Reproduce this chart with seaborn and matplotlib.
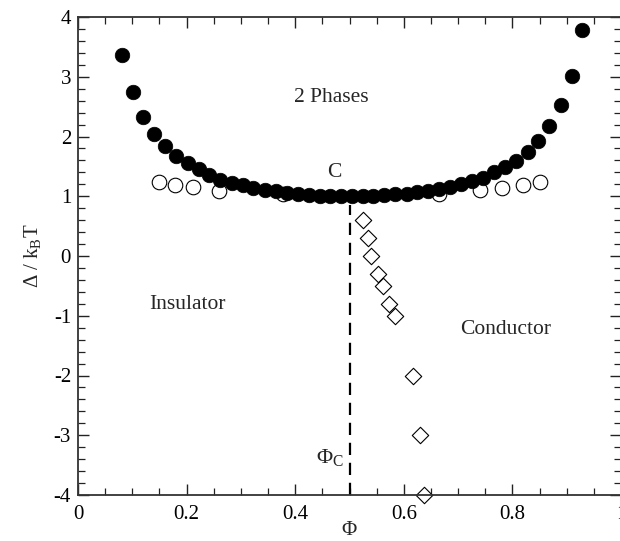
import matplotlib
matplotlib.use("Agg")
import matplotlib.pyplot as plt
import seaborn as sns
from matplotlib.ticker import MultipleLocator

# binodal (filled circles)
phi_binodal = [0.081, 0.101, 0.120, 0.140, 0.160, 0.181, 0.202, 0.222, 0.242, 0.262,
               0.283, 0.303, 0.323, 0.344, 0.364, 0.384, 0.405, 0.425, 0.445, 0.465,
               0.485, 0.504, 0.524, 0.544, 0.564, 0.584, 0.605, 0.624, 0.645, 0.665,
               0.685, 0.706, 0.726, 0.746, 0.766, 0.787, 0.807, 0.828, 0.848, 0.868,
               0.889, 0.909, 0.929]
delta_binodal = [3.37, 2.75, 2.33, 2.04, 1.84, 1.68, 1.555, 1.46, 1.355, 1.28,
                 1.23, 1.18, 1.14, 1.11, 1.08, 1.05, 1.03, 1.02, 1.01, 1.0,
                 1.0, 1.0, 1.0, 1.01, 1.02, 1.03, 1.04, 1.065, 1.095, 1.12,
                 1.155, 1.20, 1.255, 1.31, 1.40, 1.49, 1.59, 1.74, 1.92, 2.17,
                 2.52, 3.01, 3.78]

# open circles
phi_open = [0.150, 0.178, 0.212, 0.260, 0.377, 0.665, 0.740, 0.780, 0.819, 0.850]
delta_open = [1.245, 1.18, 1.155, 1.09, 1.03, 1.03, 1.10, 1.135, 1.19, 1.245]

# metal-insulator line (diamonds)
phi_mi = [0.525, 0.534, 0.540, 0.553, 0.561, 0.573, 0.583, 0.617, 0.630, 0.638]
delta_mi = [0.6, 0.3, 0.0, -0.3, -0.5, -0.8, -1.0, -2.0, -3.0, -4.0]

phi_c = 0.5

sns.set_theme(style="ticks")
plt.rcParams["font.family"] = ["Liberation Serif", "DejaVu Serif"]
plt.rcParams["mathtext.fontset"] = "custom"
plt.rcParams["mathtext.rm"] = "Liberation Serif"
plt.rcParams["mathtext.it"] = "Liberation Serif:italic"

fig = plt.figure(figsize=(6.2, 5.41), dpi=100)
ax = fig.add_axes([78 / 620, 46 / 541, 543 / 620, 478 / 541])

ax.plot([phi_c, phi_c], [-4, 0.85], color="black", lw=1.6, ls=(0, (5.5, 3.5)), zorder=1)

sns.scatterplot(x=phi_binodal, y=delta_binodal, ax=ax, color="black", s=110,
                edgecolor="black", linewidth=0.5, zorder=3, clip_on=False)
sns.scatterplot(x=phi_open, y=delta_open, ax=ax, facecolor="white", s=110,
                edgecolor="black", linewidth=0.8, zorder=2, clip_on=False)
sns.scatterplot(x=phi_mi, y=delta_mi, ax=ax, marker="D", facecolor="white", s=70,
                edgecolor="black", linewidth=0.8, zorder=2, clip_on=False)

ax.set_xlim(0, 1)
ax.set_ylim(-4, 4)
ax.xaxis.set_major_locator(MultipleLocator(0.2))
ax.xaxis.set_minor_locator(MultipleLocator(0.05))
ax.yaxis.set_major_locator(MultipleLocator(1))
ax.yaxis.set_minor_locator(MultipleLocator(0.2))
ax.xaxis.set_major_formatter(plt.FuncFormatter(lambda v, p: f"{v:g}"))
ax.yaxis.set_major_formatter(plt.FuncFormatter(lambda v, p: f"{v:g}"))
ax.tick_params(which="both", direction="in", top=True, right=True, colors="#222222",
               labelcolor="black", labelsize=15)
ax.tick_params(which="major", length=8, width=1.0)
ax.tick_params(which="minor", length=5, width=0.9)
ax.tick_params(axis="x", which="major", pad=7)
ax.tick_params(axis="y", which="major", pad=5)
for sp in ax.spines.values():
    sp.set_linewidth(1.3)
    sp.set_color("#333333")

ax.set_xlabel("\u03a6", fontsize=15, labelpad=-2)
ax.set_ylabel(r"$\mathregular{\Delta\ /\ k_B T}$", fontsize=15, labelpad=8)

ax.text(0.467, 2.65, "2 Phases", ha="center", va="center", fontsize=15.5)
ax.text(0.472, 1.40, "C", ha="center", va="center", fontsize=15.5)
ax.text(0.201, -0.81, "Insulator", ha="center", va="center", fontsize=15.5)
ax.text(0.787, -1.23, "Conductor", ha="center", va="center", fontsize=15.5)
ax.text(0.489, -3.38, r"$\mathregular{\Phi_C}$", ha="right", va="center", fontsize=16)

fig.savefig("out.png", dpi=100)
